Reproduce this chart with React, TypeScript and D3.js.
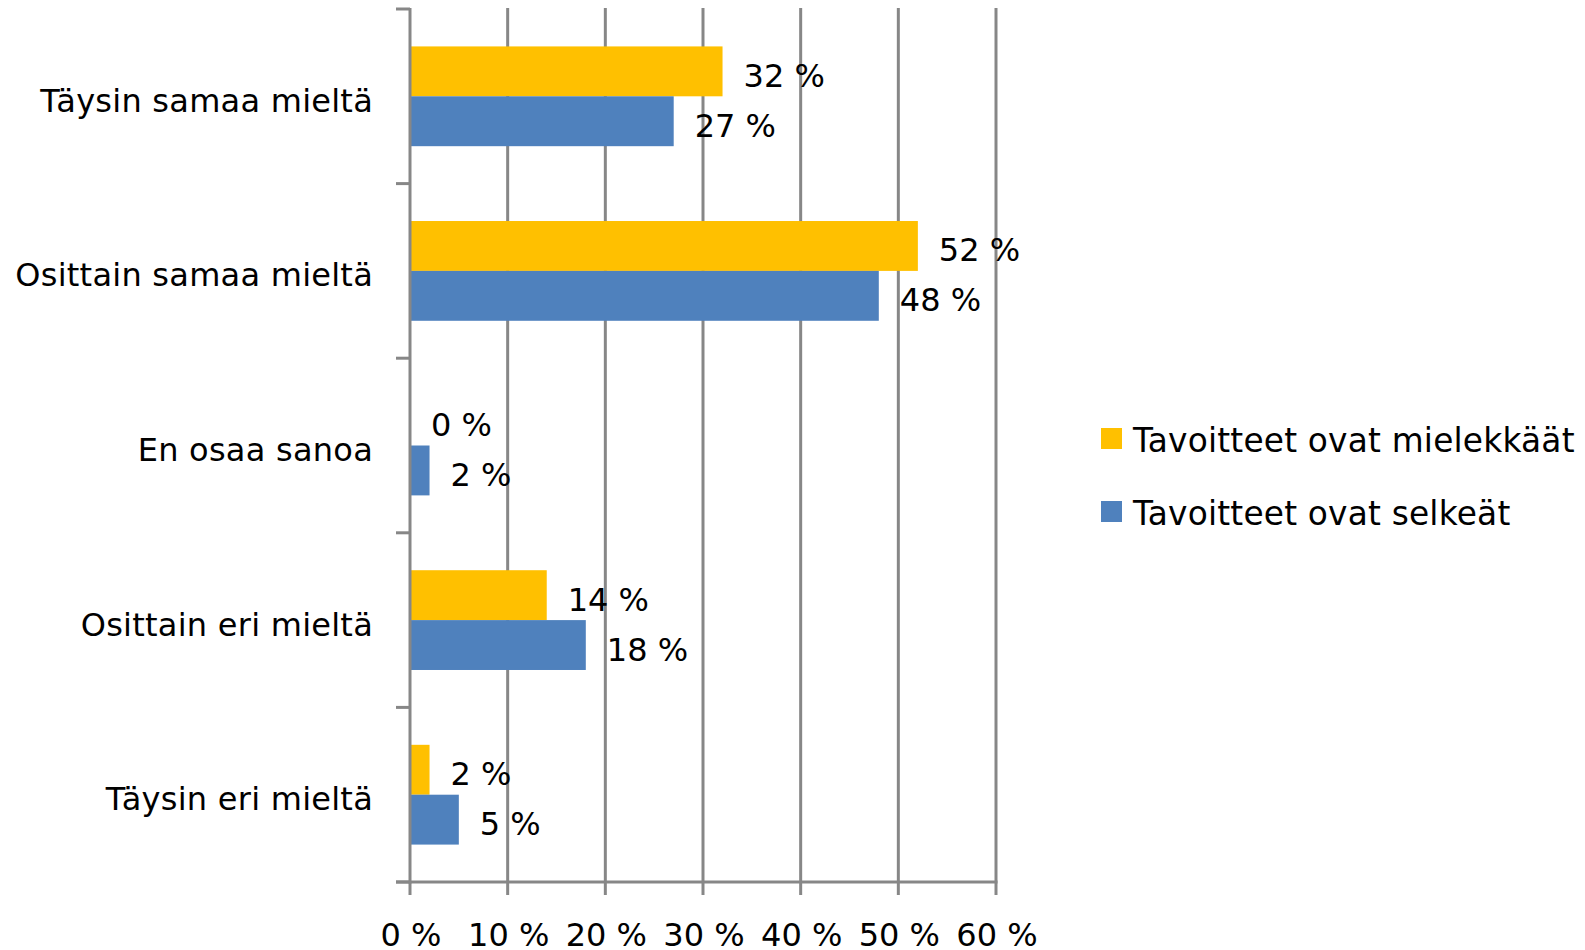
import React from 'react'
import { scaleLinear, scaleBand } from 'd3'

// data
const categories = [
  'Täysin samaa mieltä',
  'Osittain samaa mieltä',
  'En osaa sanoa',
  'Osittain eri mieltä',
  'Täysin eri mieltä',
]
const series = ['Tavoitteet ovat mielekkäät', 'Tavoitteet ovat selkeät']
const mielekkaat = [32, 52, 0, 14, 2]
const selkeat = [27, 48, 2, 18, 5]
const xTicks = [0, 10, 20, 30, 40, 50, 60]
const colors = ['#FFC000', '#4F81BD']

const W = 1585
const H = 950
const FONT = '"DejaVu Sans", Verdana, sans-serif'
const GRID = '#878787'

const App = () => {
  const x = scaleLinear().domain([0, 60]).range([410, 996])
  const y = scaleBand().domain(categories).range([9, 882]).paddingInner(0).paddingOuter(0)
  const barH = y.bandwidth() / 3.5
  const values = [mielekkaat, selkeat]
  const bounds = categories.map((c) => y(c)).concat([882])

  return (
    <div style={{ position: 'absolute', left: 0, top: 0 }}>
      <svg width={W} height={H} style={{ display: 'block', background: 'white' }} fontFamily={FONT}>
        {/* grid lines */}
        {xTicks.slice(1).map((t) => (
          <line key={'g' + t} x1={x(t)} x2={x(t)} y1={8} y2={882} stroke={GRID} strokeWidth={3} />
        ))}
        {/* bottom ticks */}
        {xTicks.map((t) => (
          <line key={'bt' + t} x1={x(t)} x2={x(t)} y1={882} y2={895} stroke={GRID} strokeWidth={3} />
        ))}
        {/* left ticks */}
        {bounds.map((b, i) => (
          <line key={'lt' + i} x1={396} x2={410} y1={b} y2={b} stroke={GRID} strokeWidth={3} />
        ))}
        {/* bars */}
        {categories.map((c, i) => {
          const mid = (y(c) as number) + y.bandwidth() / 2
          return values.map((vals, s) => {
            const top = s === 0 ? mid - barH : mid
            return (
              <rect
                key={c + s}
                x={x(0)}
                y={top}
                width={x(vals[i]) - x(0)}
                height={barH}
                fill={colors[s]}
              />
            )
          })
        })}
        {/* axes */}
        <line x1={x(0)} x2={x(0)} y1={8} y2={883.5} stroke={GRID} strokeWidth={3} />
        <line x1={396} x2={x(60) + 1.5} y1={882} y2={882} stroke={GRID} strokeWidth={3} />
        {/* value labels */}
        {categories.map((c, i) => {
          const mid = (y(c) as number) + y.bandwidth() / 2
          return values.map((vals, s) => {
            const center = s === 0 ? mid - barH / 2 : mid + barH / 2
            return (
              <text key={'v' + c + s} x={x(vals[i]) + 21} y={center + 15.5} fontSize={32} fill="#000">
                {vals[i]} %
              </text>
            )
          })
        })}
        {/* category labels */}
        {categories.map((c) => (
          <text
            key={'c' + c}
            x={373}
            y={(y(c) as number) + y.bandwidth() / 2 + 15.4}
            fontSize={32}
            letterSpacing={0.25}
            textAnchor="end"
            fill="#000"
          >
            {c}
          </text>
        ))}
        {/* x tick labels */}
        {xTicks.map((t) => (
          <text key={'xl' + t} x={x(t) + 1} y={946} fontSize={32} textAnchor="middle" fill="#000">
            {t} %
          </text>
        ))}
        {/* legend */}
        {series.map((name, s) => (
          <g key={name} transform={`translate(1101, ${428 + s * 73})`}>
            <rect x={0} y={0} width={21} height={21} fill={colors[s]} />
            <text x={32} y={23.7} fontSize={32.8} letterSpacing={0.2} fill="#000">
              {name}
            </text>
          </g>
        ))}
      </svg>
    </div>
  )
}

export default App
